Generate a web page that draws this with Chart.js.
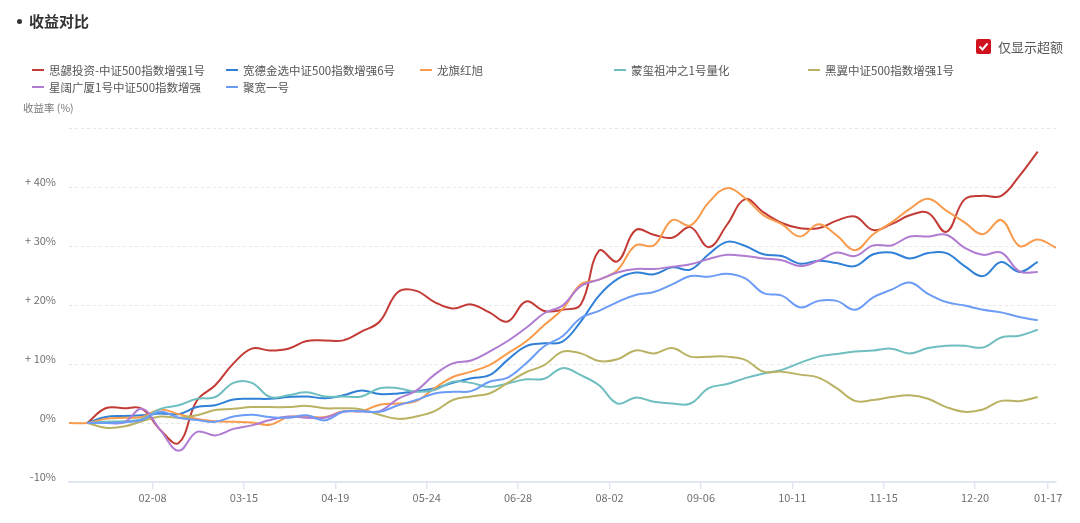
<!DOCTYPE html>
<html>
<head>
<meta charset="utf-8">
<script src="https://cdn.jsdelivr.net/npm/chart.js@4.4.1/dist/chart.umd.min.js"></script>
<style>
  html, body { margin: 0; padding: 0; background: #fff; }
  body { width: 1080px; height: 523px; position: relative; overflow: hidden;
         font-family: "Noto Sans CJK SC", "Noto Sans", sans-serif; }
  #wrap { position: absolute; left: 0; top: 0; width: 1080px; height: 523px; }
  .title { position: absolute; left: 29px; top: 10px; font-size: 15px; font-weight: bold; color: #333; line-height: 22px; }
  .bullet { position: absolute; left: 17px; top: 19px; width: 5px; height: 5px; border-radius: 50%; background: #333; }
  .chk { position: absolute; left: 976px; top: 39px; width: 15px; height: 15px; background: #d0121f; border-radius: 2px; }
  .chk svg { position: absolute; left: 0; top: 0; }
  .chklabel { position: absolute; left: 998px; top: 38px; font-size: 13px; color: #555; line-height: 18px; }
  .legend-item { position: absolute; font-size: 11.5px; color: #555; line-height: 16px; white-space: nowrap; }
  .legend-item i { position: absolute; left: 0; top: 7px; width: 12px; height: 2px; }
  .legend-item span { position: absolute; left: 17px; top: 0; }
  .ylabel { position: absolute; left: 23px; top: 100px; font-size: 10.5px; color: #777; line-height: 16px; }
</style>
</head>
<body>
<div id="wrap"><canvas id="c" width="1080" height="523"></canvas></div>
<div class="bullet"></div>
<div class="title">收益对比</div>
<div class="chk"><svg width="15" height="15"><path d="M3.5 7.5 L6.5 10.5 L11.5 4.5" stroke="#fff" stroke-width="2" fill="none"/></svg></div>
<div class="chklabel">仅显示超额</div>
<div id="legend"></div>
<div class="ylabel">收益率 (%)</div>
<script>
// ---- data ----
const weeks = [
  '2023-01-07','2023-01-14','2023-01-21','2023-01-28','2023-02-04','2023-02-11','2023-02-18','2023-02-25',
  '2023-03-04','2023-03-11','2023-03-18','2023-03-25','2023-04-01','2023-04-08','2023-04-15','2023-04-22',
  '2023-04-29','2023-05-06','2023-05-13','2023-05-20','2023-05-27','2023-06-03','2023-06-10','2023-06-17',
  '2023-06-24','2023-07-01','2023-07-08','2023-07-15','2023-07-22','2023-07-29','2023-08-05','2023-08-12',
  '2023-08-19','2023-08-26','2023-09-02','2023-09-09','2023-09-16','2023-09-23','2023-09-30','2023-10-07',
  '2023-10-14','2023-10-21','2023-10-28','2023-11-04','2023-11-11','2023-11-18','2023-11-25','2023-12-02',
  '2023-12-09','2023-12-16','2023-12-23','2023-12-30','2024-01-06','2024-01-13','2024-01-20'
];
const tickDates = ['2023-02-08','2023-03-15','2023-04-19','2023-05-24','2023-06-28','2023-08-02',
                   '2023-09-06','2023-10-11','2023-11-15','2023-12-20','2024-01-17'];
const yTicks = [-10, 0, 10, 20, 30, 40, 50];

const seriesNames = ['思勰投资-中证500指数增强1号','宽德金选中证500指数增强6号','龙旗红旭','蒙玺祖冲之1号量化',
                     '黑翼中证500指数增强1号','星阔广厦1号中证500指数增强','聚宽一号'];

const siXie = [null,0,2.5,2.5,2.4,-1.2,-3.4,3.8,6.4,10.1,12.6,12.3,12.6,13.9,14.0,14.0,15.5,17.2,22.2,22.4,
  20.5,19.4,20.1,18.75,17.2,20.6,19.0,19.2,20.1,29.2,27.4,32.7,31.9,31.4,33.2,29.8,33.6,37.95,35.7,33.9,
  33.0,33.0,34.3,35.0,32.7,33.7,35.2,35.6,32.4,37.9,38.5,38.5,41.9,46.0];
const kuanDe = [null,0,1.0,1.2,1.3,1.6,1.5,2.7,3.0,4.0,4.1,4.1,4.4,4.5,4.2,4.7,5.5,4.9,5.0,5.4,
  5.9,6.8,7.6,8.1,10.7,13.0,13.5,13.8,17.2,21.6,24.4,25.5,25.2,26.4,26.0,28.6,30.7,30.0,28.6,28.3,
  27.0,27.5,27.1,26.6,28.6,28.9,27.9,28.8,28.8,26.6,24.9,27.3,25.6,27.3];
const longQi = [0,0,0.7,0.9,1.0,2.3,1.5,0.7,0.3,0.2,0.1,-0.3,1.0,1.1,1.0,2.0,2.0,3.1,3.3,3.7,
  5.9,7.8,8.7,9.8,11.8,13.8,16.6,19.3,23.5,24.3,25.9,30.1,30.1,34.4,33.5,37.4,39.8,38.1,35.2,33.7,
  31.6,33.7,31.8,29.3,32.0,34.0,36.3,38.0,36.0,34.0,32.0,34.4,30.0,31.1,29.7];
const mengXi = [null,0,0.2,0.3,0.7,2.4,3.0,4.1,4.4,6.8,6.8,4.4,4.7,5.2,4.5,4.5,4.5,5.9,5.9,5.3,
  5.6,7.0,6.8,6.1,6.7,7.4,7.5,9.3,8.1,6.4,3.3,4.3,3.6,3.3,3.3,5.9,6.6,7.6,8.4,9.0,
  10.2,11.25,11.7,12.1,12.3,12.6,11.8,12.7,13.1,13.1,12.8,14.5,14.8,15.8];
const heiYi = [null,0,-0.8,-0.6,0.3,1.1,0.9,1.3,2.2,2.4,2.7,2.7,2.7,2.9,2.5,2.5,2.3,1.4,0.7,1.1,
  2.0,3.9,4.5,5.0,6.8,8.6,9.8,12.1,11.8,10.5,10.8,12.3,11.8,12.7,11.25,11.25,11.25,10.7,8.7,8.7,
  8.2,7.7,5.9,3.75,3.9,4.4,4.7,4.1,2.7,1.9,2.3,3.75,3.7,4.4];
const xingKuo = [null,0,0,0.1,2.4,-1.2,-4.7,-1.5,-2.1,-1.0,-0.4,0.5,1.1,0.9,0.9,1.9,2.0,2.0,4.1,5.5,
  8.2,10.1,10.6,12.1,13.9,16.1,18.6,19.9,23.2,24.3,25.5,26.1,26.1,26.5,26.9,27.8,28.5,28.3,27.9,27.6,
  26.6,27.5,28.9,28.3,30.1,30.1,31.6,31.6,31.9,29.7,28.5,28.9,25.7,25.6];
const juKuan = [null,0,0,0.1,0.5,1.9,0.9,0.5,0.2,1.1,1.4,1.0,0.9,1.3,0.45,1.9,2.0,1.9,3.0,3.9,
  5.0,5.3,5.4,7.0,7.7,10.1,13.0,14.7,17.8,19.0,20.5,21.7,22.2,23.5,24.9,24.8,25.3,24.5,22.0,21.6,
  19.6,20.7,20.7,19.2,21.3,22.6,23.8,21.9,20.5,19.9,19.2,18.75,17.95,17.4];

const seriesValues = [siXie, kuanDe, longQi, mengXi, heiYi, xingKuo, juKuan];

// ---- styles ----
const seriesColors = ['#c33b36','#2f80d6','#f99b4c','#6fbec0','#bab263','#b07cd2','#6c9cf6'];

// ---- build ----
const DAY = 86400000;
const t0 = Date.parse(weeks[0]);
const dayOf = d => Math.round((Date.parse(d) - t0) / DAY);
const tickDays = tickDates.map(dayOf);
const tickText = {};
tickDates.forEach(d => { tickText[dayOf(d)] = d.slice(5); });

const datasets = seriesValues.map((vals, k) => ({
  label: seriesNames[k],
  data: vals.map((v, i) => ({ x: dayOf(weeks[i]), y: v })),
  borderColor: seriesColors[k],
  backgroundColor: seriesColors[k],
  borderWidth: 2,
  pointRadius: 0,
  pointHoverRadius: 0,
  tension: 0.4,
  fill: false,
  order: seriesValues.length - k
}));

// legend (html)
const legend = document.getElementById('legend');
seriesNames.forEach((n, k) => {
  const col = k % 5, row = Math.floor(k / 5);
  const el = document.createElement('div');
  el.className = 'legend-item';
  el.style.left = (32 + col * 194) + 'px';
  el.style.top = (62 + row * 17) + 'px';
  el.innerHTML = '<i style="background:' + seriesColors[k] + '"></i><span>' + n + '</span>';
  legend.appendChild(el);
});

const axisColor = '#e1e7f2';

new Chart(document.getElementById('c'), {
  type: 'line',
  data: { datasets },
  options: {
    responsive: false,
    animation: false,
    events: [],
    layout: { padding: { left: 0, right: 24, top: 128, bottom: 0 } },
    plugins: { legend: { display: false }, tooltip: { enabled: false }, title: { display: false } },
    scales: {
      x: {
        type: 'linear',
        min: 0,
        max: dayOf(weeks[weeks.length - 1]),
        afterBuildTicks: s => { s.ticks = tickDays.map(v => ({ value: v })); },
        afterFit: s => { s.height = 41; },
        ticks: {
          autoSkip: false, maxRotation: 0, padding: 2,
          color: '#707070',
          font: { size: 11, family: '"Noto Sans CJK SC", "Noto Sans", sans-serif' },
          callback: v => tickText[v] || ''
        },
        grid: { drawOnChartArea: false, drawTicks: true, tickLength: 7, color: axisColor, lineWidth: 1.5 },
        border: { display: true, color: axisColor, width: 2 }
      },
      y: {
        min: -10, max: 50,
        afterBuildTicks: s => { s.ticks = yTicks.map(v => ({ value: v })); },
        afterFit: s => { s.width = 69; },
        ticks: {
          padding: 13,
          labelOffset: -5,
          color: '#707070',
          font: { size: 11, family: '"Noto Sans CJK SC", "Noto Sans", sans-serif' },
          callback: v => v === 50 ? '' : (v > 0 ? '+ ' + v + '%' : v + '%')
        },
        grid: {
          drawTicks: false,
          color: ctx => ctx.tick && ctx.tick.value === -10 ? 'rgba(0,0,0,0)' : '#e6e6e6',
          lineWidth: 1
        },
        border: { display: false, dash: [3, 3] }
      }
    }
  }
});
</script>
</body>
</html>
